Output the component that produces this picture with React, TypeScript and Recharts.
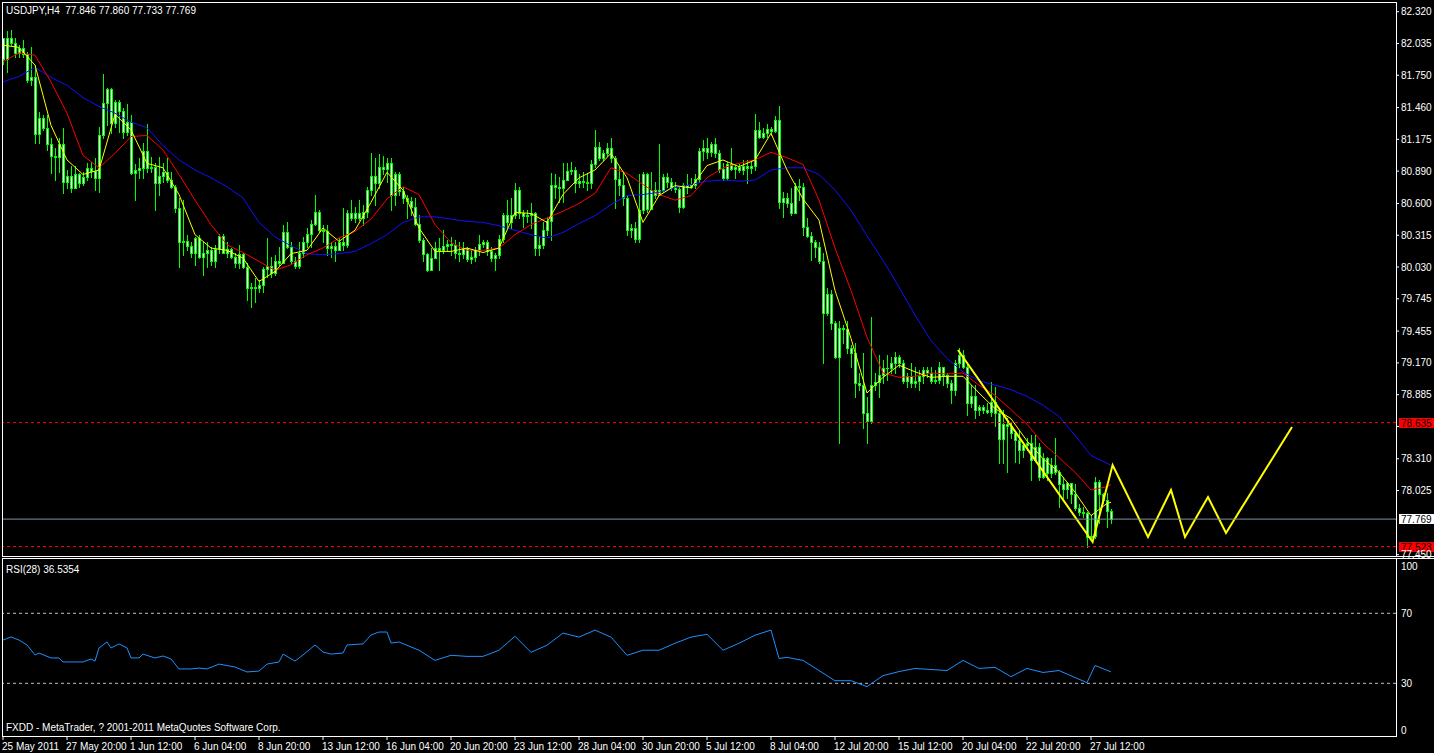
import { ComposedChart, Bar, Line, XAxis, YAxis, ReferenceLine } from 'recharts';

// USDJPY H4, bar 0 = 25 May 2011, bar 277 = 28 Jul 08:00 (last bar)
const firstOpen = 82.08;
const closes = [
  81.90, 82.08, 82.04, 81.95, 81.99, 81.94, 81.71, 81.73, 81.22, 81.37,
  81.28, 81.13, 81.03, 81.02, 81.13, 80.79, 80.85, 80.74, 80.86, 80.78,
  80.84, 80.92, 80.89, 80.83, 81.21, 81.50, 81.63, 81.32, 81.51, 81.43,
  81.24, 81.33, 80.87, 80.90, 80.92, 81.07, 80.92, 80.93, 80.78, 80.85,
  80.88, 80.81, 80.75, 80.56, 80.25, 80.26, 80.22, 80.16, 80.29, 80.12,
  80.16, 80.18, 80.08, 80.19, 80.31, 80.16, 80.19, 80.12, 80.07, 80.15,
  80.03, 79.84, 79.85, 79.84, 79.87, 80.01, 80.04, 79.98, 80.08, 80.07,
  80.34, 80.21, 80.08, 80.04, 80.16, 80.25, 80.33, 80.42, 80.52, 80.36,
  80.35, 80.20, 80.22, 80.18, 80.25, 80.23, 80.51, 80.47, 80.51, 80.47,
  80.52, 80.72, 80.85, 80.78, 80.93, 80.91, 80.96, 80.68, 80.86, 80.71,
  80.65, 80.62, 80.57, 80.42, 80.27, 80.15, 80.00, 80.11, 80.20, 80.18,
  80.22, 80.24, 80.23, 80.16, 80.15, 80.20, 80.10, 80.12, 80.18, 80.24,
  80.25, 80.17, 80.11, 80.14, 80.28, 80.50, 80.43, 80.50, 80.72, 80.51,
  80.49, 80.50, 80.51, 80.20, 80.23, 80.36, 80.44, 80.77, 80.75, 80.74,
  80.81, 80.89, 80.90, 80.78, 80.80, 80.79, 80.78, 80.95, 81.11, 81.01,
  81.05, 81.10, 81.01, 80.82, 80.77, 80.65, 80.36, 80.38, 80.28, 80.54,
  80.86, 80.55, 80.72, 80.68, 80.72, 80.84, 80.79, 80.75, 80.73, 80.57,
  80.77, 80.75, 80.77, 80.82, 81.07, 81.10, 81.06, 81.13, 81.05, 80.91,
  80.83, 80.95, 80.91, 80.93, 80.90, 80.94, 80.92, 80.94, 81.26, 81.20,
  81.23, 81.27, 81.25, 81.35, 80.61, 80.65, 80.60, 80.51, 80.76, 80.75,
  80.39, 80.31, 80.25, 80.21, 80.08, 79.62, 79.79, 79.53, 79.22, 79.48,
  79.47, 79.30, 79.26, 78.99, 78.97, 78.72, 78.65, 78.97, 79.00, 79.06,
  79.12, 79.12, 79.17, 79.22, 79.17, 79.01, 79.05, 78.99, 79.01, 79.05,
  79.11, 79.08, 79.01, 79.02, 79.13, 79.06, 78.99, 78.93, 79.17, 79.24,
  79.13, 78.81, 78.87, 78.75, 78.77, 78.75, 78.73, 78.82, 78.72, 78.49,
  78.62, 78.60, 78.54, 78.48, 78.39, 78.43, 78.45, 78.30, 78.42, 78.15,
  78.32, 78.18, 78.25, 78.19, 78.08, 78.04, 78.09, 77.99, 77.87, 77.83,
  77.82, 77.61, 77.62, 78.10, 77.99, 77.94, 77.846, 77.769,
];
const highs = [
  82.08, 82.15, 82.16, 82.08, 82.02, 82.07, 81.96, 82.00, 81.84, 81.42,
  81.39, 81.39, 81.19, 81.10, 81.19, 81.28, 80.90, 80.94, 80.94, 80.87,
  80.88, 80.96, 80.97, 81.01, 81.29, 81.76, 81.64, 81.64, 81.53, 81.53,
  81.46, 81.49, 81.39, 80.95, 81.01, 81.14, 81.31, 81.02, 80.96, 81.02,
  80.96, 81.01, 80.88, 80.77, 80.65, 80.63, 80.32, 80.25, 80.30, 80.32,
  80.25, 80.25, 80.21, 80.23, 80.33, 80.33, 80.25, 80.20, 80.16, 80.23,
  80.16, 80.07, 79.89, 79.93, 79.91, 80.03, 80.29, 80.12, 80.14, 80.21,
  80.41, 80.43, 80.25, 80.12, 80.25, 80.30, 80.38, 80.45, 80.68, 80.54,
  80.41, 80.41, 80.25, 80.25, 80.29, 80.56, 80.54, 80.63, 80.57, 80.63,
  80.59, 80.75, 81.05, 81.01, 81.04, 81.03, 81.01, 81.01, 80.88, 80.88,
  80.75, 80.68, 80.66, 80.65, 80.50, 80.29, 80.16, 80.20, 80.25, 80.29,
  80.36, 80.27, 80.30, 80.27, 80.25, 80.25, 80.21, 80.18, 80.21, 80.32,
  80.27, 80.27, 80.21, 80.16, 80.32, 80.51, 80.63, 80.65, 80.78, 80.75,
  80.54, 80.54, 80.60, 80.52, 80.30, 80.43, 80.48, 80.87, 80.86, 80.84,
  80.96, 80.96, 80.97, 80.93, 80.86, 80.88, 80.87, 80.99, 81.26, 81.15,
  81.08, 81.14, 81.19, 81.03, 80.93, 80.87, 80.68, 80.42, 80.43, 80.86,
  80.88, 80.87, 80.88, 80.79, 81.13, 80.86, 80.87, 80.83, 80.79, 80.75,
  80.78, 80.86, 80.83, 80.86, 81.10, 81.17, 81.19, 81.15, 81.19, 81.08,
  80.96, 80.97, 81.10, 80.95, 80.95, 80.99, 80.99, 80.97, 81.40, 81.33,
  81.28, 81.31, 81.29, 81.38, 81.47, 80.70, 80.69, 80.74, 80.78, 80.82,
  80.78, 80.47, 80.34, 80.27, 80.25, 80.16, 79.84, 79.82, 79.55, 79.55,
  79.51, 79.55, 79.33, 79.35, 79.08, 79.26, 78.86, 79.58, 79.08, 79.24,
  79.20, 79.24, 79.22, 79.27, 79.24, 79.20, 79.08, 79.17, 79.13, 79.11,
  79.13, 79.13, 79.13, 79.11, 79.18, 79.08, 79.08, 79.02, 79.20, 79.30,
  79.29, 79.17, 78.97, 78.97, 78.79, 78.79, 78.81, 79.00, 78.95, 78.73,
  78.75, 78.68, 78.64, 78.55, 78.57, 78.45, 78.50, 78.52, 78.52, 78.45,
  78.36, 78.33, 78.32, 78.50, 78.21, 78.15, 78.10, 78.08, 78.08, 77.90,
  77.88, 77.83, 77.81, 78.15, 78.12, 78.00, 78.00, 77.86,
];
const lows = [
  81.85, 81.78, 82.02, 81.91, 81.91, 81.91, 81.69, 81.66, 81.14, 81.14,
  81.26, 81.08, 80.87, 80.81, 80.88, 80.69, 80.74, 80.70, 80.75, 80.75,
  80.77, 80.81, 80.84, 80.72, 80.70, 81.19, 81.30, 81.23, 81.29, 81.24,
  81.19, 81.21, 80.86, 80.63, 80.83, 80.83, 80.88, 80.88, 80.54, 80.68,
  80.79, 80.79, 80.74, 80.52, 80.03, 80.14, 80.18, 80.12, 80.05, 80.11,
  79.96, 80.03, 80.05, 80.03, 80.16, 80.16, 80.12, 80.11, 80.03, 80.02,
  80.02, 79.73, 79.67, 79.72, 79.81, 79.81, 79.94, 79.94, 79.96, 80.05,
  80.07, 80.20, 80.07, 80.02, 80.02, 80.12, 80.21, 80.21, 80.41, 80.34,
  80.25, 80.14, 80.12, 80.08, 80.18, 80.18, 80.21, 80.45, 80.43, 80.45,
  80.41, 80.48, 80.68, 80.59, 80.74, 80.86, 80.79, 80.54, 80.59, 80.68,
  80.60, 80.47, 80.50, 80.41, 80.25, 80.08, 79.99, 80.07, 80.11, 80.00,
  80.16, 80.18, 80.14, 80.11, 80.08, 80.11, 80.08, 80.07, 80.08, 80.14,
  80.21, 80.14, 80.08, 80.00, 80.11, 80.25, 80.38, 80.38, 80.47, 80.47,
  80.39, 80.43, 80.38, 80.14, 80.14, 80.20, 80.32, 80.27, 80.65, 80.61,
  80.61, 80.81, 80.86, 80.70, 80.75, 80.75, 80.72, 80.74, 80.93, 80.99,
  80.99, 81.03, 80.97, 80.56, 80.68, 80.59, 80.32, 80.30, 80.25, 80.25,
  80.51, 80.52, 80.65, 80.65, 80.68, 80.70, 80.75, 80.72, 80.70, 80.52,
  80.56, 80.69, 80.74, 80.74, 80.79, 80.99, 81.01, 81.03, 81.02, 80.88,
  80.81, 80.81, 80.90, 80.83, 80.88, 80.86, 80.78, 80.87, 80.90, 81.19,
  81.19, 81.20, 81.21, 81.24, 80.56, 80.48, 80.57, 80.50, 80.63, 80.63,
  80.32, 80.30, 80.09, 80.12, 80.07, 79.17, 79.60, 79.47, 79.21, 78.45,
  79.35, 79.26, 79.13, 78.86, 78.93, 78.59, 78.45, 78.63, 78.93, 78.86,
  78.99, 79.02, 79.08, 79.08, 79.13, 78.99, 78.95, 78.95, 78.95, 78.93,
  78.99, 79.04, 78.99, 78.99, 78.99, 78.97, 78.95, 78.81, 78.88, 79.13,
  79.12, 78.70, 78.77, 78.68, 78.70, 78.72, 78.72, 78.69, 78.60, 78.27,
  78.27, 78.19, 78.50, 78.28, 78.27, 78.33, 78.39, 78.12, 78.33, 78.12,
  78.14, 78.12, 78.15, 78.17, 77.88, 77.96, 77.96, 77.91, 77.85, 77.81,
  77.79, 77.523, 77.60, 77.60, 77.73, 77.91, 77.70, 77.733,
];

// moving averages, every 4 bars
const maBars = [
  0, 4, 8, 12, 16, 20, 24, 28, 32, 36, 40, 44, 48, 52, 56, 60, 64, 68, 72, 76,
  80, 84, 88, 92, 96, 100, 104, 108, 112, 116, 120, 124, 128, 132, 136, 140, 144, 148, 152, 156,
  160, 164, 168, 172, 176, 180, 184, 188, 192, 196, 200, 204, 208, 212, 216, 220, 224, 228, 232, 236,
  240, 244, 248, 252, 256, 260, 264, 268, 272, 276, 277,
];
const maYellow = [
  82.02, 82.00, 81.84, 81.30, 80.99, 80.86, 80.90, 81.40, 81.26, 80.96,
  80.92, 80.68, 80.32, 80.20, 80.18, 80.11, 79.90, 79.99, 80.15, 80.18,
  80.38, 80.26, 80.36, 80.61, 80.88, 80.72, 80.38, 80.17, 80.17, 80.20,
  80.16, 80.20, 80.52, 80.51, 80.43, 80.68, 80.83, 80.90, 81.05, 80.83,
  80.43, 80.67, 80.76, 80.74, 80.94, 80.99, 80.93, 80.99, 81.23, 80.90,
  80.64, 80.45, 79.82, 79.39, 78.90, 79.04, 79.15, 79.09, 79.04, 79.05,
  79.05, 78.90, 78.76, 78.67, 78.47, 78.31, 78.19, 78.01, 77.80, 77.91, 77.92,
];
const maRed = [
  81.87, 81.95, 81.93, 81.69, 81.41, 81.03, 80.92, 81.05, 81.20, 81.21,
  81.08, 80.86, 80.63, 80.41, 80.23, 80.16, 80.08, 80.00, 80.05, 80.14,
  80.20, 80.29, 80.35, 80.46, 80.64, 80.75, 80.68, 80.41, 80.25, 80.18,
  80.18, 80.20, 80.32, 80.41, 80.47, 80.53, 80.60, 80.69, 80.92, 80.87,
  80.77, 80.68, 80.63, 80.67, 80.83, 80.92, 80.96, 80.99, 81.06, 81.01,
  80.95, 80.63, 80.20, 79.82, 79.40, 79.08, 79.04, 79.05, 79.08, 79.07,
  79.08, 78.97, 78.88, 78.75, 78.62, 78.45, 78.32, 78.19, 78.03, 78.06, 78.08,
];
const maBlue = [
  81.69, 81.74, 81.82, 81.73, 81.66, 81.55, 81.47, 81.41, 81.33, 81.28,
  81.12, 80.99, 80.90, 80.83, 80.75, 80.65, 80.43, 80.30, 80.22, 80.15,
  80.14, 80.15, 80.17, 80.24, 80.32, 80.43, 80.48, 80.48, 80.46, 80.44,
  80.43, 80.40, 80.36, 80.32, 80.29, 80.34, 80.42, 80.49, 80.59, 80.67,
  80.68, 80.70, 80.74, 80.77, 80.80, 80.81, 80.80, 80.81, 80.90, 80.92,
  80.92, 80.86, 80.72, 80.54, 80.31, 80.09, 79.85, 79.60, 79.37, 79.21,
  79.09, 79.01, 78.97, 78.93, 78.87, 78.79, 78.69, 78.52, 78.34, 78.27, 78.25,
];

// hand-drawn zigzag projection
const zigBars = [238.75, 272.4, 277.4, 286.25, 292, 295.5, 301.25, 305.75, 322.25];
const zigPrices = [79.286, 77.564, 78.254, 77.609, 78.03, 77.609, 77.967, 77.645, 78.595];

// RSI(28)
const rsiBars = [
  0, 2, 4, 6, 8, 9, 12, 14, 15, 18, 20, 22, 23, 24, 26, 27, 29, 31, 32, 34,
  35, 38, 40, 42, 44, 47, 49, 51, 54, 58, 61, 64, 66, 69, 70, 73, 75, 78, 80, 82,
  85, 86, 90, 92, 94, 96, 97, 99,
  104, 108, 112, 116, 120, 124, 128, 132, 136, 140, 144, 148, 152, 156, 160, 164, 168, 172, 176, 180,
  184, 188, 192, 194, 196, 200, 204, 208, 212, 216, 220, 224, 228, 232, 236, 240, 244, 248, 252, 256,
  260, 264, 268, 271, 273, 277,
];
const rsiValues = [
  54.7, 56.5, 54.7, 51.9, 46.2, 47.3, 44.5, 44.5, 42.2, 42.2, 42.2, 43.9, 42.7, 50.2, 53.6, 50.2, 52.5, 50.2, 44.5, 44.5,
  46.7, 44.5, 45.6, 43.9, 38.2, 38.2, 38.7, 38.2, 41.0, 39.3, 36.5, 37.0, 41.0, 42.2, 46.7, 42.7, 46.2, 51.9, 47.9, 46.7,
  47.3, 51.9, 52.5, 57.6, 59.3, 59.3, 53.0, 53.6,
  48.9, 43.1, 46.0, 45.4, 45.4, 48.9, 56.9, 47.7, 51.8, 58.7, 56.4, 60.4, 56.4, 46.0, 48.9, 48.9, 52.9, 56.4, 58.0, 48.9,
  52.9, 57.5, 60.4, 44.2, 44.8, 43.1, 37.3, 31.5, 31.5, 28.1, 34.4, 36.7, 38.5, 37.9, 37.3, 43.1, 38.5, 39.1, 33.8, 38.5,
  36.2, 37.3, 33.3, 30.4, 40.2, 36.54,
];

const priceTicks = [
  82.32, 82.035, 81.75, 81.46, 81.175, 80.89, 80.6, 80.315, 80.03,
  79.745, 79.455, 79.17, 78.885, 78.6, 78.31, 78.025, 77.45,
];
// labels that sit under a price box in the terminal
const hiddenPriceLabels = [78.6];
const timeTickBars = [0, 16, 32, 48, 64, 80, 96, 112, 128, 144, 160, 176, 192, 208, 224, 240, 256, 272];
const timeTickLabels = [
  '25 May 2011', '27 May 20:00', '1 Jun 12:00', '6 Jun 04:00', '8 Jun 20:00', '13 Jun 12:00',
  '16 Jun 04:00', '20 Jun 20:00', '23 Jun 12:00', '28 Jun 04:00', '30 Jun 20:00', '5 Jul 12:00',
  '8 Jul 04:00', '12 Jul 20:00', '15 Jul 12:00', '20 Jul 04:00', '22 Jul 20:00', '27 Jul 12:00',
];

const FONT = '"Liberation Sans", Arial, sans-serif';
const LIME = '#00ff00';
const X_DOMAIN: [number, number] = [0, 348.25];

const candles = closes.map((c, i) => {
  const open = i === 0 ? firstOpen : closes[i - 1];
  return {
    x: i,
    open,
    close: c,
    high: Math.max(highs[i], open, c),
    low: Math.min(lows[i], open, c),
  };
});
const toLine = (bars: number[], vals: number[]) => bars.map((b, i) => ({ x: b, v: vals[i] }));
const yellowData = toLine(maBars, maYellow);
const redData = toLine(maBars, maRed);
const blueData = toLine(maBars, maBlue);
const zigData = toLine(zigBars, zigPrices);
const rsiData = toLine(rsiBars, rsiValues);

const CandleShape = (props: any) => {
  const { x, y, width, height, payload } = props;
  if (x == null || !payload) return null;
  const { open, close, high, low } = payload;
  const cx = Math.round(x + width / 2);
  const span = high - low;
  const py = (p: number) => (span > 0 ? y + ((high - p) / span) * height : y);
  const top = Math.round(py(Math.max(open, close)));
  const bot = Math.round(py(Math.min(open, close)));
  const yh = Math.round(y);
  const yl = Math.round(y + height);
  return (
    <g>
      <rect x={cx} y={yh} width={1} height={Math.max(1, yl - yh + 1)} fill={LIME} />
      <rect x={cx - 1} y={top} width={3} height={Math.max(1, bot - top + 1)} fill={LIME} />
      {bot - top >= 2 && <rect x={cx} y={top + 1} width={1} height={bot - top - 1} fill="#ffffff" />}
    </g>
  );
};

const PriceTick = (props: any) => {
  const { x, y, payload } = props;
  if (hiddenPriceLabels.includes(payload.value)) return null;
  return (
    <text x={x} y={y + 3.5} fill="#fff" fontSize={10} fontFamily={FONT} textAnchor="start">
      {Number(payload.value).toFixed(3)}
    </text>
  );
};

const RsiTick = (props: any) => {
  const { x, y, payload } = props;
  const shift = payload.value === 100 ? 6 : payload.value === 0 ? -5.5 : 0;
  return (
    <text x={x} y={y + 3.5 + shift} fill="#fff" fontSize={10} fontFamily={FONT} textAnchor="start">
      {payload.value}
    </text>
  );
};

const TimeTick = (props: any) => {
  const { x, y, payload } = props;
  const idx = timeTickBars.indexOf(payload.value);
  return (
    <text x={x - 1} y={y + 7.5} fill="#fff" fontSize={10} fontFamily={FONT} textAnchor="start">
      {timeTickLabels[idx]}
    </text>
  );
};

const PriceBox = (props: any) => {
  const { viewBox, text, bg, fg } = props;
  if (!viewBox) return null;
  const bx = viewBox.x + viewBox.width + 3;
  const by = Math.round(viewBox.y);
  return (
    <g>
      <rect x={bx} y={by - 5} width={35} height={10} fill={bg} />
      <text x={bx + 2} y={by + 3.5} fill={fg} fontSize={10} fontFamily={FONT}>
        {text}
      </text>
    </g>
  );
};

const label = (top: number, text: string) => (
  <div
    style={{
      position: 'absolute',
      left: 6,
      top,
      fontSize: 10,
      lineHeight: '10px',
      color: '#fff',
      fontFamily: FONT,
      whiteSpace: 'pre',
    }}
  >
    {text}
  </div>
);

export default function App() {
  return (
    <div style={{ position: 'absolute', left: 0, top: 0, width: 1434, height: 753, background: '#000', overflow: 'hidden' }}>
      <div style={{ position: 'absolute', left: 0, top: 0 }}>
        <ComposedChart width={1434} height={562} data={candles} margin={{ top: 3, right: 0, bottom: 6, left: 3 }}>
          <XAxis dataKey="x" type="number" domain={X_DOMAIN} allowDataOverflow hide />
          <YAxis
            orientation="right"
            type="number"
            domain={[77.438, 82.398]}
            allowDataOverflow
            ticks={priceTicks}
            interval={0}
            width={38}
            axisLine={false}
            tickLine={{ stroke: '#fff' }}
            tickSize={3}
            tick={<PriceTick />}
          />
          <Line data={blueData} dataKey="v" type="linear" stroke="#1010ff" strokeWidth={1} dot={false} isAnimationActive={false} />
          <Line data={redData} dataKey="v" type="linear" stroke="#ff0000" strokeWidth={1} dot={false} isAnimationActive={false} />
          <Line data={yellowData} dataKey="v" type="linear" stroke="#ffff00" strokeWidth={1} dot={false} isAnimationActive={false} />
          <Bar dataKey={(d: any) => [d.low, d.high]} barSize={3} shape={<CandleShape />} isAnimationActive={false} />
          <Line data={zigData} dataKey="v" type="linear" stroke="#ffff00" strokeWidth={2} dot={false} isAnimationActive={false} />
          <ReferenceLine y={78.635} stroke="#ff0000" strokeDasharray="3 3" label={<PriceBox text="78.635" bg="#ff0000" fg="#000" />} />
          <ReferenceLine y={77.769} stroke="#8090a0" label={<PriceBox text="77.769" bg="#ffffff" fg="#000" />} />
          <ReferenceLine y={77.523} stroke="#ff0000" strokeDasharray="3 3" label={<PriceBox text="77.523" bg="#ff0000" fg="#000" />} />
        </ComposedChart>
      </div>
      <div style={{ position: 'absolute', left: 0, top: 558 }}>
        <ComposedChart width={1434} height={195} data={rsiData} margin={{ top: 0, right: 0, bottom: 0, left: 3 }}>
          <XAxis
            dataKey="x"
            type="number"
            domain={X_DOMAIN}
            allowDataOverflow
            ticks={timeTickBars}
            interval={0}
            height={17}
            axisLine={false}
            tickLine={{ stroke: '#fff' }}
            tickSize={4}
            tick={<TimeTick />}
          />
          <YAxis
            orientation="right"
            type="number"
            domain={[-0.1, 101.6]}
            allowDataOverflow
            ticks={[0, 30, 70, 100]}
            interval={0}
            width={38}
            axisLine={false}
            tickLine={false}
            tickSize={3}
            tick={<RsiTick />}
          />
          <ReferenceLine y={70} stroke="#c0c0c0" strokeDasharray="3 3" />
          <ReferenceLine y={30} stroke="#c0c0c0" strokeDasharray="3 3" />
          <Line dataKey="v" type="linear" stroke="#1e90ff" strokeWidth={1} dot={false} isAnimationActive={false} />
        </ComposedChart>
      </div>
      {/* panel frames */}
      <div style={{ position: 'absolute', left: 2, top: 2, width: 1395, height: 555, border: '1px solid #fff', borderBottom: 'none', boxSizing: 'border-box' }} />
      <div style={{ position: 'absolute', left: 2, top: 556, width: 1432, height: 1, background: '#fff' }} />
      <div style={{ position: 'absolute', left: 2, top: 558, width: 1432, height: 1, background: '#fff' }} />
      <div style={{ position: 'absolute', left: 2, top: 558, width: 1395, height: 179, border: '1px solid #fff', borderTop: 'none', boxSizing: 'border-box' }} />
      {label(5.5, 'USDJPY,H4  77.846 77.860 77.733 77.769')}
      {label(565, 'RSI(28) 36.5354')}
      {label(723, 'FXDD - MetaTrader, ? 2001-2011 MetaQuotes Software Corp.')}
    </div>
  );
}
